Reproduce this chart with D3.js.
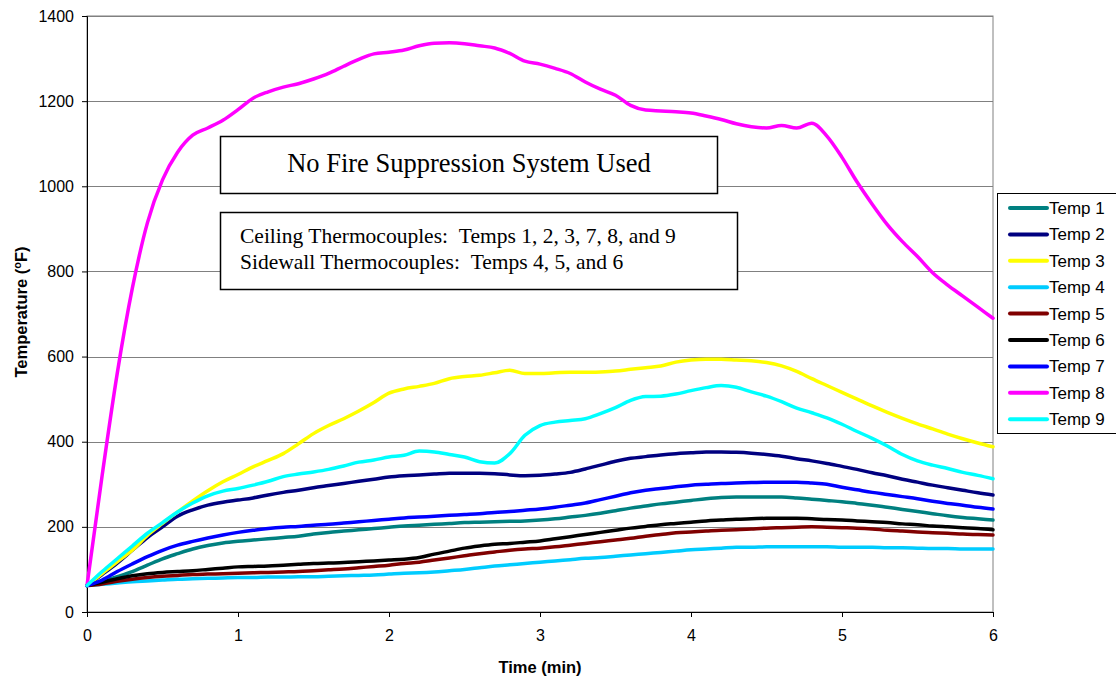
<!DOCTYPE html>
<html><head><meta charset="utf-8">
<script src="https://cdn.jsdelivr.net/npm/d3@7"></script>
<style>
html,body{margin:0;padding:0;background:#fff;}
svg{display:block;}
text{font-family:"Liberation Sans",Arial,sans-serif;}
.serif{font-family:"Liberation Serif","Times New Roman",serif;}
</style></head>
<body>
<svg id="chart" width="1116" height="677"></svg>
<script>
// Time in minutes (0 to 6, every 0.1 min)
const times = d3.range(0, 61).map(i => +(i * 0.1).toFixed(1));
const seriesNames = ["Temp 1","Temp 2","Temp 3","Temp 4","Temp 5","Temp 6","Temp 7","Temp 8","Temp 9"];
const seriesColors = ["#008080","#000080","#FFFF00","#00CCFF","#800000","#000000","#0000FF","#FF00FF","#00FFFF"];
const yTicks = [0,200,400,600,800,1000,1200,1400];
const xTicks = [0,1,2,3,4,5,6];

const temp1 = [62,72,83,95,110,125,137,148,156,162,166,169,172,175,178,183,187,190,193,196,199,202,204,206,208,210,211,212,213,214,216,219,223,227,232,238,244,249,254,258,262,266,269,270,270,270,270,268,265,262,259,255,251,246,241,236,231,226,222,219,216];
const temp2 = [62,88,115,145,175,200,225,240,251,258,263,268,275,281,286,292,297,302,307,312,317,320,322,324,326,326,326,325,322,320,321,324,328,336,345,354,361,365,369,372,374,376,376,375,373,370,366,360,355,349,342,335,327,320,312,305,298,292,286,280,275];
const temp3 = [62,90,118,145,180,208,235,261,285,306,323,341,356,372,395,419,438,454,472,492,514,524,530,537,548,553,556,562,568,560,560,562,563,563,564,566,570,574,578,587,592,594,594,592,590,586,578,565,548,532,516,500,484,469,455,442,430,418,407,397,388];
const temp4 = [62,65,68,71,73,75,77,78,79,80,81,81,82,82,83,83,84,85,86,87,89,91,92,94,97,100,104,108,111,114,117,120,123,126,128,131,134,137,140,143,146,148,150,152,152,153,153,153,153,153,152,152,152,151,151,150,149,149,148,148,148];
const temp5 = [62,66,72,77,81,84,86,88,89,90,91,92,93,94,95,97,99,101,104,107,110,114,117,122,127,132,137,141,145,148,150,153,157,161,165,169,173,178,182,186,188,190,192,193,195,197,198,199,200,199,198,197,195,192,190,188,186,185,183,182,181];
const temp6 = [62,70,78,85,90,93,95,97,100,103,106,107,108,110,112,114,115,116,118,120,122,124,128,136,143,150,155,159,161,164,167,172,177,182,187,192,197,201,205,208,211,214,216,218,219,220,220,220,219,217,216,214,212,210,207,205,202,200,198,196,193];
const temp7 = [62,75,95,113,130,145,157,166,174,181,187,192,196,199,201,204,206,209,212,215,218,221,223,225,227,229,231,234,236,239,242,246,251,256,264,272,280,286,290,294,298,300,302,303,304,305,305,305,303,300,293,287,281,276,271,266,260,255,251,246,242];
const temp8 = [62,320,560,760,914,1015,1080,1120,1137,1155,1180,1207,1222,1233,1241,1252,1265,1282,1298,1311,1315,1320,1330,1336,1337,1335,1330,1325,1312,1294,1287,1277,1265,1245,1228,1214,1190,1179,1177,1175,1172,1165,1157,1147,1140,1137,1143,1137,1148,1118,1068,1010,958,910,870,835,797,768,742,716,690];
const temp9 = [62,95,125,155,185,210,235,256,273,284,290,298,307,318,324,329,335,343,352,357,364,368,378,376,370,364,353,350,372,415,438,446,450,454,466,480,497,506,507,512,520,527,532,528,517,507,494,479,468,456,441,424,408,390,370,355,345,337,328,321,313];
const seriesValues = [temp1,temp2,temp3,temp4,temp5,temp6,temp7,temp8,temp9];

const svg = d3.select("#chart");
const L = 87, R = 993, T = 16, B = 612;
const x = d3.scaleLinear().domain([0,6]).range([L,R]);
const y = d3.scaleLinear().domain([0,1400]).range([B,T]);

// plot area frame
svg.append("rect").attr("x",L).attr("y",T).attr("width",R-L).attr("height",B-T)
  .attr("fill","#fff").attr("stroke","#808080").attr("stroke-width",1);

// gridlines
svg.append("g").selectAll("line").data(yTicks.filter(d=>d>0)).join("line")
  .attr("x1",L).attr("x2",R).attr("y1",d=>Math.round(y(d))+0.5).attr("y2",d=>Math.round(y(d))+0.5)
  .attr("stroke","#808080").attr("stroke-width",1);

// axes
const yAxis = svg.append("g").attr("transform",`translate(${L},0)`)
  .call(d3.axisLeft(y).tickValues(yTicks).tickSize(5).tickPadding(8).tickFormat(d3.format("d")));
const xAxis = svg.append("g").attr("transform",`translate(0,${B})`)
  .call(d3.axisBottom(x).tickValues(xTicks).tickSize(5).tickPadding(13).tickFormat(d3.format("d")));
[yAxis,xAxis].forEach(g=>{
  g.select(".domain").attr("stroke","#000");
  g.selectAll(".tick line").attr("stroke","#000");
  g.selectAll("text").attr("font-size",16).attr("fill","#000").attr("font-family","Liberation Sans, Arial, sans-serif");
});

// lines
const line = d3.line().x((d,i)=>x(times[i])).y(d=>y(d)).curve(d3.curveMonotoneX);
const lineG = svg.append("g");
seriesValues.forEach((vals,k)=>{
  lineG.append("path").datum(vals).attr("d",line).attr("fill","none")
    .attr("stroke",seriesColors[k]).attr("stroke-width",3.5)
    .attr("stroke-linejoin","round").attr("stroke-linecap","round");
});

// annotation boxes
svg.append("rect").attr("x",220.5).attr("y",136.5).attr("width",497).attr("height",57)
  .attr("fill","#fff").attr("stroke","#000").attr("stroke-width",1.5);
svg.append("text").attr("class","serif").attr("x",469).attr("y",172).attr("text-anchor","middle")
  .attr("font-size",26.5).text("No Fire Suppression System Used");
svg.append("rect").attr("x",220.5).attr("y",212.5).attr("width",517).attr("height",77)
  .attr("fill","#fff").attr("stroke","#000").attr("stroke-width",1.5);
const noteLines = ["Ceiling Thermocouples:\u00a0\u00a0Temps 1, 2, 3, 7, 8, and 9","Sidewall Thermocouples:\u00a0\u00a0Temps 4, 5, and 6"];
svg.append("g").selectAll("text").data(noteLines).join("text").attr("class","serif")
  .attr("x",240).attr("y",(d,i)=>243+i*26).attr("font-size",21.5).text(d=>d);

// axis titles
const yt = svg.append("text").attr("transform","translate(27,312) rotate(-90)")
  .attr("text-anchor","middle").attr("font-size",16.5).attr("font-weight","bold");
yt.append("tspan").text("Temperature (");
yt.append("tspan").attr("font-size",11).attr("dy",-6).text("o");
yt.append("tspan").attr("dy",6).text("F)");
svg.append("text").attr("x",540).attr("y",673).attr("text-anchor","middle")
  .attr("font-size",16.5).attr("font-weight","bold").text("Time (min)");

// legend
svg.append("rect").attr("x",997.5).attr("y",193.5).attr("width",130).attr("height",240)
  .attr("fill","#fff").attr("stroke","#000").attr("stroke-width",1);
const leg = svg.append("g").selectAll("g").data(seriesNames).join("g")
  .attr("transform",(d,i)=>`translate(0,${208+i*26.4})`);
leg.append("line").attr("x1",1010).attr("x2",1047).attr("y1",0).attr("y2",0)
  .attr("stroke",(d,i)=>seriesColors[i]).attr("stroke-width",4).attr("stroke-linecap","round");
leg.append("text").attr("x",1049).attr("y",6).attr("font-size",17).text(d=>d);
</script>
</body></html>
